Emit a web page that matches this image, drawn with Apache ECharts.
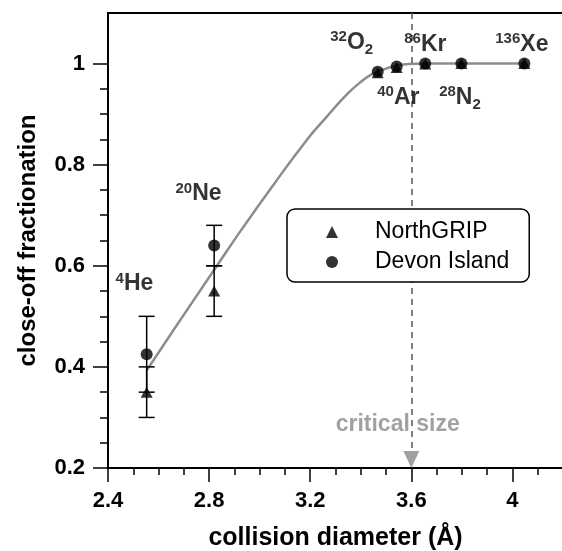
<!DOCTYPE html>
<html>
<head>
<meta charset="utf-8">
<script src="https://cdn.jsdelivr.net/npm/echarts@6/dist/echarts.min.js"></script>
<style>
  html, body { margin: 0; padding: 0; background: #fff; }
  #chart { width: 562px; height: 551px; }
</style>
</head>
<body>
<div id="chart"></div>
<script>
// Close-off fractionation of gases versus their collision diameter
const gases = ['He', 'Ne', 'O2', 'Ar', 'Kr', 'N2', 'Xe'];
const diameter = [2.553, 2.82, 3.467, 3.542, 3.655, 3.798, 4.047];
const northGrip = [0.35, 0.55, 0.982, 0.992, 0.999, 1.0, 1.0];
const devonIsland = [0.425, 0.64, 0.984, 0.994, 1.0, 1.0, 1.0];

// error ranges: [diameter, low, high]
const northGripErr = [[2.553, 0.30, 0.40], [2.82, 0.50, 0.60]];
const devonErr = [[2.553, 0.35, 0.50], [2.82, 0.60, 0.68]];

// fitted close-off curve
const fitX = [2.553, 2.658, 2.827, 2.922, 3.053, 3.185, 3.264, 3.343, 3.396, 3.448, 3.50, 3.545, 3.59, 3.65, 3.80, 4.047];
const fitY = [0.393, 0.472, 0.597, 0.667, 0.759, 0.848, 0.894, 0.938, 0.962, 0.980, 0.990, 0.996, 0.999, 1.0, 1.0, 1.0];

const criticalSize = 3.6;

// axis ticks
const xMajor = [2.4, 2.8, 3.2, 3.6, 4.0];
const xMinor = [2.5, 2.6, 2.7, 2.9, 3.0, 3.1, 3.3, 3.4, 3.5, 3.7, 3.8, 3.9, 4.1];
const yMajor = [0.2, 0.4, 0.6, 0.8, 1.0];
const yMinor = [0.25, 0.3, 0.35, 0.45, 0.5, 0.55, 0.65, 0.7, 0.75, 0.85, 0.9, 0.95];

// isotope labels (rich text)
const gasLabelText = [
  '{sup|4}{main|He}',
  '{sup|20}{main|Ne}',
  '{sup|32}{main|O}{sub|2}',
  '{sup|40}{main|Ar}',
  '{sup|86}{main|Kr}',
  '{sup|28}{main|N}{sub|2}',
  '{sup|136}{main|Xe}'
];
// top-left anchor of each label, in data units
const gasLabelAnchor = [
  [2.432, 0.593], [2.669, 0.771], [3.281, 1.071], [3.467, 0.962],
  [3.574, 1.067], [3.712, 0.962], [3.934, 1.067]
];
const criticalLabelAnchor = [3.548, 0.307];

const FONT = '"Liberation Sans", Arial, Helvetica, sans-serif';

const chart = echarts.init(document.getElementById('chart'), null, { renderer: 'canvas' });

const zip = (a, b) => a.map((v, i) => [v, b[i]]);

function errorBarRender(params, api) {
  const x = api.value(0), lo = api.value(1), hi = api.value(2);
  const top = api.coord([x, hi]);
  const bot = api.coord([x, lo]);
  const hw = 8;
  const st = { stroke: '#000', lineWidth: 1.5 };
  return {
    type: 'group',
    children: [
      { type: 'line', shape: { x1: top[0], y1: top[1], x2: bot[0], y2: bot[1] }, style: st },
      { type: 'line', shape: { x1: top[0] - hw, y1: top[1], x2: top[0] + hw, y2: top[1] }, style: st },
      { type: 'line', shape: { x1: bot[0] - hw, y1: bot[1], x2: bot[0] + hw, y2: bot[1] }, style: st }
    ]
  };
}

const axisCommon = {
  type: 'value',
  splitLine: { show: false },
  axisLine: { show: true, lineStyle: { color: '#000', width: 2 } }
};

const option = {
  animation: false,
  backgroundColor: '#fff',
  textStyle: { fontFamily: FONT },
  grid: {
    left: 108, top: 13, right: -1, bottom: 83,
    outerBoundsMode: 'none', containLabel: false,
    show: true, borderColor: '#000', borderWidth: 2, backgroundColor: 'transparent'
  },
  xAxis: [
    Object.assign({}, axisCommon, {
      min: 2.4, max: 4.2, position: 'bottom',
      axisTick: { show: true, length: 7, lineStyle: { color: '#000', width: 1.5 }, customValues: xMinor },
      axisLabel: { show: false }
    }),
    Object.assign({}, axisCommon, {
      min: 2.4, max: 4.2, position: 'bottom',
      axisTick: { show: true, length: 14, lineStyle: { color: '#000', width: 1.5 }, customValues: xMajor },
      axisLabel: {
        show: true, customValues: xMajor, margin: 22,
        fontSize: 22, fontWeight: 'bold', color: '#000', fontFamily: FONT,
        formatter: v => String(+v.toFixed(1))
      },
      name: 'collision diameter (Å)', nameLocation: 'middle', nameGap: 58,
      nameTextStyle: { fontSize: 25, fontWeight: 'bold', color: '#000', fontFamily: FONT }
    })
  ],
  yAxis: [
    Object.assign({}, axisCommon, {
      min: 0.2, max: 1.1, position: 'left',
      axisTick: { show: true, length: 8, lineStyle: { color: '#000', width: 1.5 }, customValues: yMinor },
      axisLabel: { show: false }
    }),
    Object.assign({}, axisCommon, {
      min: 0.2, max: 1.1, position: 'left',
      axisTick: { show: true, length: 15, lineStyle: { color: '#000', width: 1.5 }, customValues: yMajor },
      axisLabel: {
        show: true, customValues: yMajor, margin: 23,
        fontSize: 22, fontWeight: 'bold', color: '#000', fontFamily: FONT,
        formatter: v => String(+v.toFixed(1))
      },
      name: 'close-off fractionation', nameLocation: 'middle', nameGap: 68, nameRotate: 90,
      nameTextStyle: { fontSize: 24, fontWeight: 'bold', color: '#000', fontFamily: FONT }
    })
  ],
  legend: {
    data: [
      { name: 'NorthGRIP', icon: 'triangle' },
      { name: 'Devon Island', icon: 'circle' }
    ],
    orient: 'vertical',
    left: 287, top: 209,
    padding: [11, 20, 8, 39],
    itemGap: 6, itemWidth: 12, itemHeight: 12,
    backgroundColor: '#fff', borderColor: '#000', borderWidth: 1.5, borderRadius: 8,
    selectedMode: false,
    textStyle: { fontSize: 23, color: '#000', fontFamily: FONT, lineHeight: 24, padding: [0, 0, 0, 32] },
    z: 20
  },
  series: [
    {
      name: 'fit', type: 'line', data: zip(fitX, fitY),
      showSymbol: false, smooth: 0.5,
      lineStyle: { color: '#8c8c8c', width: 2.5 }, z: 2, silent: true
    },
    {
      name: 'critical', type: 'scatter', data: [[criticalSize, 0.2168]],
      symbol: 'triangle', symbolRotate: 180, symbolSize: [16, 17],
      itemStyle: { color: '#8a8a8a' }, z: 3, silent: true,
      markLine: {
        silent: true, symbol: ['none', 'none'],
        lineStyle: { color: '#555', width: 1.5, type: [6, 5] },
        label: { show: false },
        data: [[{ coord: [criticalSize, 1.1] }, { coord: [criticalSize, 0.235] }]]
      }
    },
    {
      name: 'NorthGRIP err', type: 'custom', data: northGripErr,
      encode: { x: 0, y: [1, 2] }, renderItem: errorBarRender, z: 4, silent: true
    },
    {
      name: 'Devon err', type: 'custom', data: devonErr,
      encode: { x: 0, y: [1, 2] }, renderItem: errorBarRender, z: 4, silent: true
    },
    {
      name: 'NorthGRIP', type: 'scatter', data: zip(diameter, northGrip),
      symbol: 'triangle', symbolSize: [12, 11], itemStyle: { color: '#000' }, z: 5
    },
    {
      name: 'Devon Island', type: 'scatter', data: zip(diameter, devonIsland),
      symbol: 'circle', symbolSize: 12, itemStyle: { color: '#000' }, z: 5
    },
    {
      name: 'labels', type: 'scatter', silent: true, z: 6,
      symbol: 'circle', symbolSize: 1, itemStyle: { color: 'transparent' },
      data: gasLabelText.map((t, i) => ({
        value: gasLabelAnchor[i],
        label: { formatter: t }
      })).concat([{
        value: criticalLabelAnchor,
        label: {
          formatter: 'critical size', align: 'center',
          fontSize: 23, fontWeight: 'bold', color: '#8a8a8a', lineHeight: 23
        }
      }]),
      label: {
        show: true, position: [0, 0], align: 'left', verticalAlign: 'top',
        fontFamily: FONT, color: '#000',
        rich: {
          main: { fontSize: 23, fontWeight: 'bold', color: '#000', fontFamily: FONT, lineHeight: 30 },
          sup: { fontSize: 15, fontWeight: 'bold', color: '#000', fontFamily: FONT, lineHeight: 12, padding: [0, 0, 10, 0] },
          sub: { fontSize: 15, fontWeight: 'bold', color: '#000', fontFamily: FONT, lineHeight: 12, padding: [15, 0, 0, 0] }
        }
      }
    }
  ]
};

chart.setOption(option);
</script>
</body>
</html>
